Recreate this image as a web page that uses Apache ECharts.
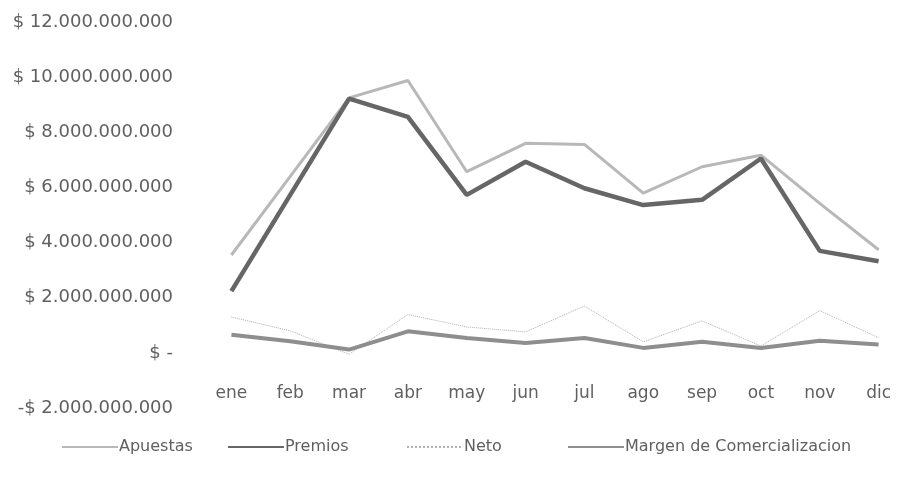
<!DOCTYPE html>
<html>
<head>
<meta charset="utf-8">
<title>Apuestas y Premios</title>
<script src="https://cdn.jsdelivr.net/npm/echarts@6/dist/echarts.min.js"></script>
<style>
  html, body { margin: 0; padding: 0; background: #fff; }
  #main { width: 908px; height: 479px; }
</style>
</head>
<body>
<div id="main"></div>
<script type="text/javascript">
// meses
var meses = ['ene', 'feb', 'mar', 'abr', 'may', 'jun', 'jul', 'ago', 'sep', 'oct', 'nov', 'dic'];

// valores por serie (pesos)
var apuestas = [3550000000, 6400000000, 9250000000, 9880000000, 6570000000, 7600000000, 7560000000, 5790000000, 6750000000, 7170000000, 5420000000, 3740000000];
var premios = [2240000000, 5730000000, 9220000000, 8560000000, 5730000000, 6930000000, 5970000000, 5360000000, 5550000000, 7050000000, 3700000000, 3320000000];
var neto = [1300000000, 800000000, -50000000, 1390000000, 940000000, 760000000, 1700000000, 400000000, 1160000000, 250000000, 1530000000, 550000000];
var margen = [660000000, 420000000, 120000000, 780000000, 540000000, 360000000, 540000000, 180000000, 400000000, 180000000, 440000000, 300000000];

var nombres = ['Apuestas', 'Premios', 'Neto', 'Margen de Comercializacion'];

var fuente = '"DejaVu Sans", sans-serif';
var gris = '#606060';

// formato tipo Excel: $ 12.000.000.000 / $ - / -$ 2.000.000.000
function pesos(v) {
	if (v === 0) return '$ -';
	var s = Math.abs(v).toString().replace(/\B(?=(\d{3})+(?!\d))/g, '.');
	return (v < 0 ? '-$ ' : '$ ') + s;
}

// una leyenda por serie para ubicarlas como en el original
var leyendaX = [56, 222, 401, 562];
var leyendas = [];
for (var i = 0; i < nombres.length; i++) {
	leyendas.push({
		data: [nombres[i]],
		left: leyendaX[i],
		top: 434,
		itemWidth: 56,
		itemHeight: 6,
		itemStyle: { opacity: 0 },
		selectedMode: false,
		textStyle: { fontFamily: fuente, fontSize: 16, color: gris, padding: [0, 0, 0, -4] }
	});
}

var myChart = echarts.init(document.getElementById('main'));

var option = {
	backgroundColor: '#ffffff',
	animation: false,
	grid: { left: 202, right: -12, top: 22, bottom: 71 },
	legend: leyendas,
	xAxis: {
		type: 'category',
		data: meses,
		boundaryGap: true,
		offset: -53,
		axisLine: { show: false },
		axisTick: { show: false },
		splitLine: { show: false },
		axisLabel: { margin: 30, fontFamily: fuente, fontSize: 17, color: gris }
	},
	yAxis: {
		type: 'value',
		min: -2000000000,
		max: 12000000000,
		interval: 2000000000,
		axisLine: { show: false },
		axisTick: { show: false },
		splitLine: { show: false },
		axisLabel: {
			margin: 29,
			fontFamily: fuente,
			fontSize: 18,
			color: gris,
			formatter: pesos
		}
	},
	series: [
		{
			name: 'Apuestas',
			type: 'line',
			data: apuestas,
			symbol: 'none',
			lineStyle: { color: '#b8b8b8', width: 3 },
			itemStyle: { color: '#b8b8b8' }
		},
		{
			name: 'Premios',
			type: 'line',
			data: premios,
			symbol: 'none',
			lineStyle: { color: '#666666', width: 4.5 },
			itemStyle: { color: '#666666' }
		},
		{
			name: 'Neto',
			type: 'line',
			data: neto,
			symbol: 'none',
			lineStyle: { color: '#b0b0b0', width: 1, type: 'dotted' },
			itemStyle: { color: '#b0b0b0' }
		},
		{
			name: 'Margen de Comercializacion',
			type: 'line',
			data: margen,
			symbol: 'none',
			lineStyle: { color: '#8e8e8e', width: 4 },
			itemStyle: { color: '#8e8e8e' }
		}
	]
};

myChart.setOption(option);
</script>
</body>
</html>
